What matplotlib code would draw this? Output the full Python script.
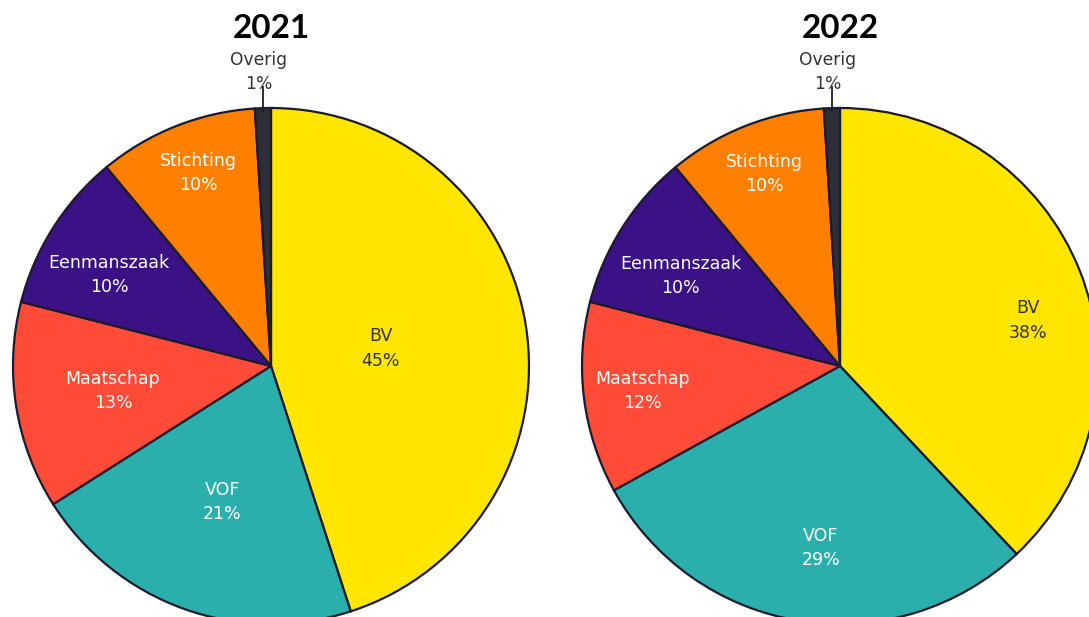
import numpy as np
import matplotlib.pyplot as plt

years = ["2021", "2022"]
categories = ["BV", "VOF", "Maatschap", "Eenmanszaak", "Stichting", "Overig"]
shares_2021 = [45, 21, 13, 10, 10, 1]
shares_2022 = [38, 29, 12, 10, 10, 1]

colors = ["#FFE600", "#2AAFAD", "#FF4B37", "#3B1186", "#FF8000", "#2E2E38"]
text_colors = ["#333333", "white", "white", "white", "white", "#333333"]

# where the labels sit inside the slices (fraction of radius, angle nudge)
label_r = {"2021": [0.43, 0.56, 0.62, 0.72, 0.80], "2022": [0.75, 0.71, 0.77, 0.71, 0.80]}
label_nudge = {"2021": [0, 0, 0, 3, -1], "2022": [-8, 3, 0, 3, 0]}

W, H = 1089, 617
fig = plt.figure(figsize=(W / 100, H / 100), dpi=100)
ax = fig.add_axes([0, 0, 1, 1])

centers = [(271, H - 366), (840, H - 366)]
radius = 258

for year, shares, (cx, cy) in zip(years, [shares_2021, shares_2022], centers):
    wedges, _ = ax.pie(shares, colors=colors, startangle=90, counterclock=False,
                       center=(cx, cy), radius=radius, frame=True,
                       wedgeprops=dict(edgecolor="#1B1B2F", linewidth=1.6))
    for i, w in enumerate(wedges):
        mid = (w.theta1 + w.theta2) / 2
        if categories[i] == "Overig":
            a = np.deg2rad(mid)
            x0 = cx + radius * np.cos(a)
            ax.plot([x0, x0], [cy + radius * 0.99, cy + radius * 1.08],
                    color="#1B1B2F", lw=1.3)
            ax.text(x0 - 4, cy + radius * 1.14, f"{categories[i]}\n{shares[i]}%",
                    ha="center", va="center", fontsize=12.3, color=text_colors[i],
                    linespacing=1.45)
            continue
        a = np.deg2rad(mid + label_nudge[year][i])
        rr = radius * label_r[year][i]
        ax.text(cx + rr * np.cos(a), cy + rr * np.sin(a), f"{categories[i]}\n{shares[i]}%",
                ha="center", va="center", fontsize=12.5, color=text_colors[i],
                linespacing=1.45)
    ax.text(cx, H - 28, year, ha="center", va="center", fontsize=24,
            fontweight="bold", family="Lato", color="black")

ax.set_xlim(0, W)
ax.set_ylim(0, H)
ax.set_aspect("equal")
ax.axis("off")

fig.savefig("out.png", dpi=100)
